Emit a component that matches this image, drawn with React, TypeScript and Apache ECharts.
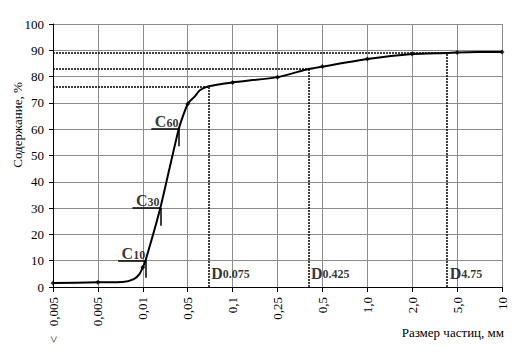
import React, { useEffect, useRef } from "react";
import * as echarts from "echarts";

const xLabels = ["<   0,005", "0,005", "0,01", "0,05", "0,1", "0,25", "0,5", "1,0", "2,0", "5,0", "10"];
const markerValues = [1.5, 1.8, 7.5, 69.6, 77.8, 79.8, 83.8, 86.7, 88.6, 89.2, 89.4];

// points
const curveX = [0, 1, 1.55, 1.8, 1.93, 2, 2.06, 2.39, 2.8, 3, 3.16, 3.27, 3.47, 4, 5, 5.69, 6, 7, 8, 8.78, 9, 10];
const curveY = [1.5, 1.8, 1.9, 3, 5, 7.5, 10, 30, 60, 69.6, 72.5, 74.8, 76.3, 77.8, 79.8, 82.9, 83.8, 86.7, 88.6, 89.0, 89.2, 89.4];

const dNames = ["0.075", "0.425", "4.75"];
const dX = [3.47, 5.69, 8.78];
const dY = [76.3, 82.9, 89.0];

const cNames = ["10", "30", "60"];
const cY = [10, 30, 60];
const cX = [2.06, 2.39, 2.8];
const cStart = [1.45, 1.77, 2.19];
const cTickEnd = [3.5, 23.3, 53.5];

const SERIF = "Liberation Serif";

export default function App() {
  const ref = useRef<HTMLDivElement>(null);
  useEffect(() => {
    if (!ref.current) return;
    const chart = echarts.init(ref.current, null, { renderer: "svg" });
    const dotted = { color: "#000", width: 1.5, type: [2, 1] as any };
    const solid = { color: "#000", width: 1.5, type: "solid" as any };
    const markData: any[] = [];
    dX.forEach((x, i) => {
      markData.push([{ coord: [0, dY[i]], lineStyle: dotted }, { coord: [x, dY[i]] }]);
      markData.push([{ coord: [x, 0], lineStyle: dotted }, { coord: [x, dY[i]] }]);
    });
    cX.forEach((x, i) => {
      markData.push([{ coord: [cStart[i], cY[i]], lineStyle: solid }, { coord: [x, cY[i]] }]);
      markData.push([{ coord: [x, cY[i]], lineStyle: solid }, { coord: [x, cTickEnd[i]] }]);
    });

    chart.setOption({
      animation: false,
      textStyle: { fontFamily: SERIF },
      grid: { left: 53, right: 24, top: 24, bottom: 67 },
      xAxis: {
        type: "value",
        min: 0,
        max: 10,
        interval: 1,
        axisLine: { lineStyle: { color: "#000", width: 1 } },
        axisTick: { show: true, length: 5, lineStyle: { color: "#000" } },
        splitLine: { show: true, lineStyle: { color: "#8c8c8c", width: 1 } },
        axisLabel: {
          rotate: 90,
          margin: 10,
          color: "#000",
          fontFamily: SERIF,
          fontSize: 13,
          formatter: (v: number) => xLabels[Math.round(v)] ?? "",
        },
      },
      yAxis: {
        type: "value",
        min: 0,
        max: 100,
        interval: 10,
        axisLine: { show: true, lineStyle: { color: "#000", width: 1 } },
        axisTick: { show: true, length: 4, lineStyle: { color: "#000" } },
        splitLine: { show: true, lineStyle: { color: "#8c8c8c", width: 1 } },
        axisLabel: { color: "#000", fontFamily: SERIF, fontSize: 13, margin: 9 },
      },
      graphic: [
        {
          type: "text",
          x: 17,
          y: 125,
          rotation: Math.PI / 2,
          style: {
            text: "Содержание, %",
            fontFamily: SERIF,
            fontSize: 13,
            fill: "#000",
            align: "center",
            verticalAlign: "middle",
          },
        },
        {
          type: "text",
          x: 504,
          y: 332,
          style: {
            text: "Размер частиц, мм",
            fontFamily: SERIF,
            fontSize: 13,
            fill: "#000",
            align: "right",
            verticalAlign: "middle",
          },
        },
      ],
      series: [
        {
          type: "line",
          data: curveX.map((x, i) => [x, curveY[i]]),
          smooth: 0.2,
          showSymbol: false,
          lineStyle: { color: "#000", width: 2 },
          markLine: {
            silent: true,
            symbol: "none",
            label: { show: false },
            data: markData,
          },
          z: 3,
        },
        {
          type: "scatter",
          data: markerValues.map((v, i) => [i, v]),
          symbol: "diamond",
          symbolSize: 5,
          itemStyle: { color: "#000" },
          z: 4,
        },
        {
          type: "scatter",
          data: dX.map((x, i) => ({ value: [x, 0], name: dNames[i] })),
          symbolSize: 1,
          itemStyle: { color: "rgba(0,0,0,0)" },
          label: {
            show: true,
            position: [3, -4],
            align: "left",
            verticalAlign: "bottom",
            formatter: (p: any) => `{a|D}{b|${p.name}}`,
            rich: {
              a: { fontFamily: SERIF, fontSize: 16, fontWeight: "bold", color: "#000", padding: [0, 0, 1, 0] },
              b: { fontFamily: SERIF, fontSize: 12, fontWeight: "bold", color: "#000" },
            },
          },
          z: 5,
        },
        {
          type: "scatter",
          data: cStart.map((x, i) => ({ value: [x, cY[i]], name: cNames[i] })),
          symbolSize: 1,
          itemStyle: { color: "rgba(0,0,0,0)" },
          label: {
            show: true,
            position: [4, 4],
            align: "left",
            verticalAlign: "bottom",
            formatter: (p: any) => `{a|C}{b|${p.name}}`,
            rich: {
              a: { fontFamily: SERIF, fontSize: 16, fontWeight: "bold", color: "#000", padding: [0, 0, 3, 0] },
              b: { fontFamily: SERIF, fontSize: 12, fontWeight: "bold", color: "#000" },
            },
          },
          z: 5,
        },
      ],
    });
    return () => chart.dispose();
  }, []);
  return <div ref={ref} style={{ width: 526, height: 354, position: "absolute", left: 0, top: 0 }} />;
}
